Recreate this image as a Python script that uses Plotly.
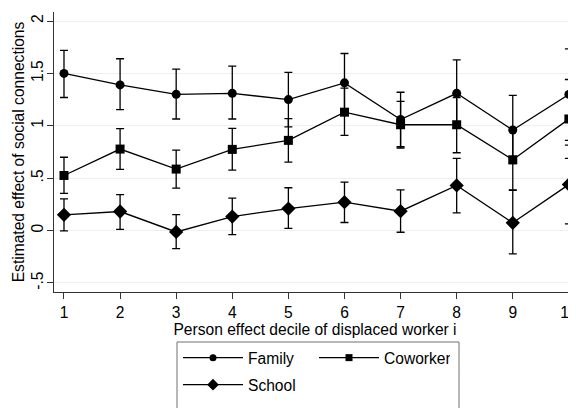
import plotly.graph_objects as go

deciles = [1, 2, 3, 4, 5, 6, 7, 8, 9, 10]

family = [1.50, 1.39, 1.30, 1.31, 1.25, 1.41, 1.06, 1.31, 0.96, 1.30]
family_hi = [1.72, 1.64, 1.54, 1.57, 1.51, 1.69, 1.32, 1.63, 1.29, 1.735]
family_lo = [1.27, 1.155, 1.065, 1.065, 0.99, 1.13, 0.80, 0.98, 0.64, 0.86]

coworker = [0.526, 0.778, 0.587, 0.775, 0.861, 1.13, 1.01, 1.01, 0.676, 1.065]
coworker_hi = [0.70, 0.973, 0.768, 0.976, 1.068, 1.36, 1.234, 1.27, 0.96, 1.442]
coworker_lo = [0.355, 0.584, 0.405, 0.577, 0.654, 0.909, 0.788, 0.743, 0.389, 0.69]

school = [0.150, 0.182, -0.013, 0.134, 0.21, 0.271, 0.185, 0.431, 0.074, 0.44]
school_hi = [0.303, 0.344, 0.153, 0.309, 0.409, 0.462, 0.389, 0.689, 0.383, 0.816]
school_lo = [-0.003, 0.012, -0.172, -0.038, 0.022, 0.077, -0.016, 0.169, -0.223, 0.064]

y_tickvals = [-0.5, 0, 0.5, 1, 1.5, 2]
y_ticktext = ["-.5", "0", ".5", "1", "1.5", "2"]

series = [
    ("Family", family, family_hi, family_lo, "circle", 9, 7, "legend"),
    ("Coworker", coworker, coworker_hi, coworker_lo, "square", 9, 7, "legend"),
    ("School", school, school_hi, school_lo, "diamond", 11, 9, "legend2"),
]

FONT = "Arial, 'Liberation Sans', sans-serif"
FS = 15.6

fig = go.Figure()
for name, vals, hi, lo, sym, sz, lsz, lg in series:
    fig.add_trace(go.Scatter(
        x=deciles, y=vals, name=name, mode="lines+markers", showlegend=False,
        line=dict(color="black", width=1.3),
        marker=dict(symbol=sym, size=sz, color="black"),
        error_y=dict(type="data", symmetric=False,
                     array=[h - v for h, v in zip(hi, vals)],
                     arrayminus=[v - l for v, l in zip(vals, lo)],
                     color="black", thickness=1.3, width=4),
        cliponaxis=False,
    ))
    # legend-only entry with smaller marker
    fig.add_trace(go.Scatter(
        x=[None], y=[None], name=name, mode="lines+markers", legend=lg,
        line=dict(color="black", width=1.3),
        marker=dict(symbol=sym, size=lsz, color="black"),
    ))

# Page is offset by the body margin (8px); layout positions compensate.
PL, PR, PT, PB = 46, 568, 4, 284
PW, PH = PR - PL, PB - PT

def px2paper_x(sx):
    return (sx - 8 - PL) / PW

def px2paper_y(sy):
    return (PB - (sy - 8)) / PH

leg_common = dict(
    orientation="h", xanchor="left", yanchor="top",
    entrywidth=61, entrywidthmode="pixels", itemwidth=60,
    borderwidth=0, bgcolor="rgba(0,0,0,0)",
    font=dict(family=FONT, size=FS, color="black"),
    itemsizing="trace", itemclick=False, itemdoubleclick=False,
)

fig.update_layout(
    width=576, height=408,
    margin=dict(l=PL, r=576 - PR, t=PT, b=408 - PB, autoexpand=False),
    paper_bgcolor="white", plot_bgcolor="white",
    font=dict(family=FONT, size=FS, color="black"),
    showlegend=True,
    legend=dict(x=px2paper_x(178), y=px2paper_y(341), **leg_common),
    legend2=dict(x=px2paper_x(178), y=px2paper_y(368), **leg_common),
    shapes=[dict(type="rect", xref="paper", yref="paper",
                 x0=px2paper_x(177), x1=px2paper_x(459),
                 y0=px2paper_y(342), y1=px2paper_y(430),
                 line=dict(color="#707070", width=1), layer="below")],
    xaxis=dict(
        range=[0.822, 10.127], tickvals=deciles, showgrid=False, zeroline=False,
        showline=True, linecolor="#333333", linewidth=1,
        ticks="outside", ticklen=6, tickcolor="#333333",
        tickfont=dict(size=FS),
        title=dict(text="Person effect decile of displaced worker i", font=dict(size=FS), standoff=0),
    ),
    yaxis=dict(
        range=[-0.586, 2.086], tickvals=y_tickvals, ticktext=y_ticktext, tickangle=-90,
        showgrid=True, gridcolor="#eaf1f2", gridwidth=1, zeroline=False,
        showline=True, linecolor="#333333", linewidth=1,
        ticks="outside", ticklen=6, tickcolor="#333333",
        ticklabelstandoff=-2,
        tickfont=dict(size=FS),
        title=dict(text="Estimated effect of social connections", font=dict(size=FS), standoff=0),
    ),
)

fig.write_html("out.html")
